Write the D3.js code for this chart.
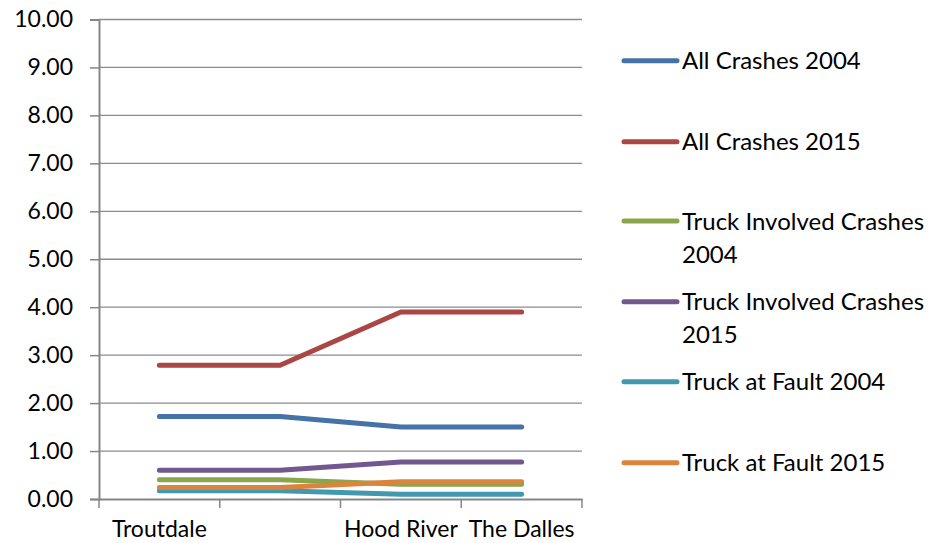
<!DOCTYPE html>
<html>
<head>
<meta charset="utf-8">
<script src="https://cdn.jsdelivr.net/npm/d3@7"></script>
<style>
  html, body { margin: 0; padding: 0; background: #fff; }
  svg { display: block; }
  text { font-family: Lato, "Open Sans", sans-serif; fill: #000; }
</style>
</head>
<body>
<svg id="chart" width="934" height="543"></svg>
<script>
const categories = ["Troutdale", "", "Hood River", "The Dalles"];
const seriesNames = [
  "All Crashes 2004",
  "All Crashes 2015",
  "Truck Involved Crashes 2004",
  "Truck Involved Crashes 2015",
  "Truck at Fault 2004",
  "Truck at Fault 2015"
];
const allCrashes2004 = [1.72, 1.72, 1.50, 1.50];
const allCrashes2015 = [2.79, 2.79, 3.90, 3.90];
const truckInvolved2004 = [0.40, 0.40, 0.31, 0.31];
const truckInvolved2015 = [0.60, 0.60, 0.77, 0.77];
const truckAtFault2004 = [0.17, 0.17, 0.10, 0.10];
const truckAtFault2015 = [0.24, 0.24, 0.36, 0.36];
const yTicks = [0, 1, 2, 3, 4, 5, 6, 7, 8, 9, 10];
const colors = ["#4572A7", "#AA4643", "#89A54E", "#71588F", "#4198AF", "#DB843D"];

const seriesValues = [allCrashes2004, allCrashes2015, truckInvolved2004, truckInvolved2015, truckAtFault2004, truckAtFault2015];
const series = seriesNames.map((n, i) => ({ name: n, values: seriesValues[i], color: colors[i] }));

const svg = d3.select("#chart");
const plot = { left: 99, right: 582, top: 19.5, bottom: 499 };

const x = d3.scaleBand().domain(d3.range(categories.length)).range([plot.left, plot.right]).padding(0);
const y = d3.scaleLinear().domain([0, 10]).range([plot.bottom, plot.top]);

// gridlines
svg.append("g").selectAll("line").data(yTicks.filter(t => t > 0)).join("line")
  .attr("x1", plot.left).attr("x2", plot.right)
  .attr("y1", d => y(d)).attr("y2", d => y(d))
  .attr("stroke", "#8c8c8c").attr("stroke-width", 1.3);

// y axis
const yAxis = d3.axisLeft(y).tickValues(yTicks).tickFormat(d3.format(".2f")).tickSize(9).tickPadding(17);
const gy = svg.append("g").attr("transform", `translate(${plot.left},0)`).call(yAxis);
gy.select(".domain").attr("stroke", "#868686").attr("stroke-width", 2);
gy.selectAll(".tick line").attr("stroke", "#868686").attr("stroke-width", 1.5);
gy.selectAll(".tick text").attr("font-size", 23).attr("font-family", "Lato, 'Open Sans', sans-serif").attr("fill", "#000");

// x axis
const xAxis = d3.axisBottom(x).tickSize(0).tickFormat(i => categories[i]);
const gx = svg.append("g").attr("transform", `translate(0,${plot.bottom})`).call(xAxis);
gx.select(".domain").attr("stroke", "#868686").attr("stroke-width", 2);
gx.selectAll(".tick text").attr("font-size", 23).attr("font-family", "Lato, 'Open Sans', sans-serif").attr("fill", "#000").attr("dy", "1.5em");
// category boundary tick marks
const bounds = d3.range(categories.length + 1).map(i => i < categories.length ? x(i) : x(categories.length - 1) + x.bandwidth());
svg.append("g").selectAll("line").data(bounds).join("line")
  .attr("x1", d => d).attr("x2", d => d)
  .attr("y1", plot.bottom).attr("y2", plot.bottom + 9)
  .attr("stroke", "#868686").attr("stroke-width", 1.5);

// lines
const line = d3.line().x((d, i) => x(i) + x.bandwidth() / 2).y(d => y(d));
svg.append("g").selectAll("path").data(series).join("path")
  .attr("d", d => line(d.values))
  .attr("fill", "none")
  .attr("stroke", d => d.color)
  .attr("stroke-width", 5)
  .attr("stroke-linecap", "round")
  .attr("stroke-linejoin", "round");

// legend
const legendY = [60.7, 141.7, 221, 301.7, 381.7, 462.7];
const legendLines = [["All Crashes 2004"], ["All Crashes 2015"], ["Truck Involved Crashes", "2004"], ["Truck Involved Crashes", "2015"], ["Truck at Fault 2004"], ["Truck at Fault 2015"]];
const lg = svg.append("g");
series.forEach((s, i) => {
  const g = lg.append("g").attr("transform", `translate(0,${legendY[i]})`);
  g.append("line").attr("x1", 624).attr("x2", 677).attr("y1", 0).attr("y2", 0)
    .attr("stroke", s.color).attr("stroke-width", 5).attr("stroke-linecap", "round");
  const t = g.append("text").attr("x", 682).attr("y", 0).attr("font-size", 24);
  legendLines[i].forEach((ln, j) => {
    t.append("tspan").attr("x", 682).attr("dy", j === 0 ? "0.36em" : 33).text(ln);
  });
});
</script>
</body>
</html>
